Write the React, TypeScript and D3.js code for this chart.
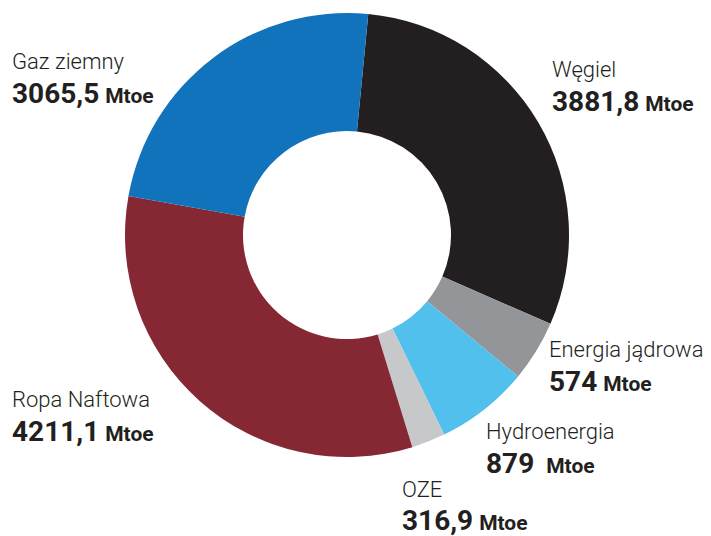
import React from "react";
import * as d3 from "d3";

const categories = ["Węgiel", "Energia jądrowa", "Hydroenergia", "OZE", "Ropa Naftowa", "Gaz ziemny"];
const values = [3881.8, 574, 879, 316.9, 4211.1, 3065.5];
const colors = ["#231f20", "#939598", "#52c0ec", "#c7c8ca", "#862834", "#1173bc"];
const unit = "Mtoe";
// label anchor positions (layout, not data)
const labelPos: [number, number, number][] = [
  [552, 77, 111],
  [549, 357, 391],
  [486, 439, 473],
  [402, 497, 530],
  [12, 407, 441],
  [12, 69, 103],
];
const unitGap = [6, 6, 12, 6, 6, 6];

const W = 711, H = 536;
const cx = 347, cy = 235, rOuter = 222, rInner = 104;
const startDeg = 5.5;

const locale = d3.formatLocale({ decimal: ",", thousands: " ", grouping: [3], currency: ["", ""] });
const fmt = locale.format("");

export default function App() {
  const pie = d3
    .pie<number>()
    .sort(null)
    .startAngle((startDeg * Math.PI) / 180)
    .endAngle((startDeg * Math.PI) / 180 + 2 * Math.PI);
  const arcs = pie(values);
  const arcGen = d3.arc<d3.PieArcDatum<number>>().innerRadius(rInner).outerRadius(rOuter);
  const font = "Roboto, 'Open Sans', sans-serif";
  return (
    <svg width={W} height={H} style={{ position: "absolute", left: 0, top: 0, background: "#fff" }}>
      <g transform={`translate(${cx},${cy})`}>
        {arcs.map((a, i) => (
          <path key={i} d={arcGen(a) || ""} fill={colors[i]} />
        ))}
      </g>
      {categories.map((c, i) => {
        const [x, y1, y2] = labelPos[i];
        return (
          <g key={c} fontFamily={font} fill="#231f20">
            <text x={x} y={y1} fontSize={22} fontWeight={300}>
              {c}
            </text>
            <text x={x} y={y2} fontSize={28} fontWeight={700}>
              {fmt(values[i])}
              <tspan dx={unitGap[i]} fontSize={21}>
                {unit}
              </tspan>
            </text>
          </g>
        );
      })}
    </svg>
  );
}
